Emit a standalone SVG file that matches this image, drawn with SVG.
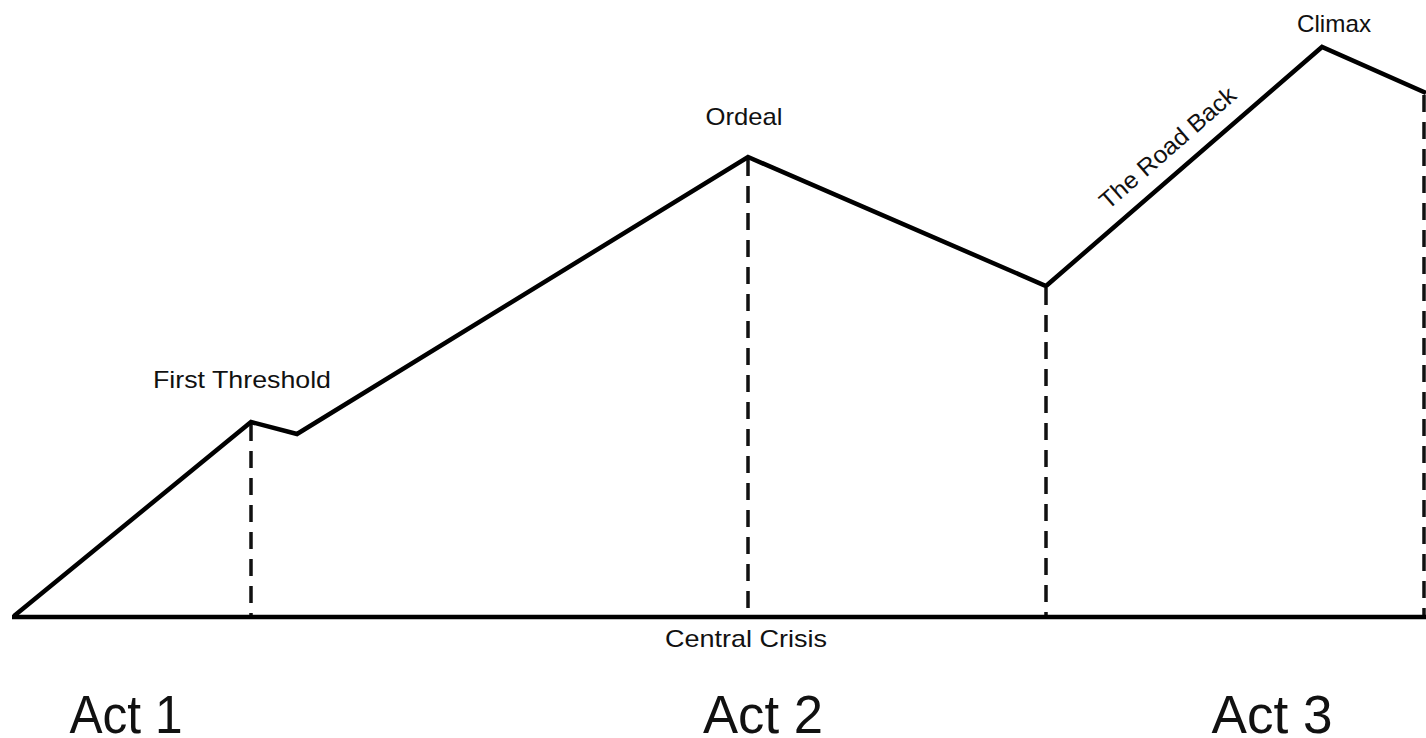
<svg xmlns="http://www.w3.org/2000/svg" width="1426" height="738" viewBox="0 0 1426 738">
<style>
.t{font-family:"Liberation Sans",Arial,sans-serif;fill:#111}
.s{font-size:24px}
.a{font-size:53px}
.ln{fill:none;stroke:#000;stroke-width:4.5;stroke-linejoin:miter}
.d{stroke:#111;stroke-width:3.5;stroke-dasharray:17 10;fill:none}
</style>
<rect width="1426" height="738" fill="#fff"/>
<g id="connectors">
<line class="d" x1="251" y1="424" x2="251" y2="616"/>
<line class="d" x1="748" y1="159" x2="748" y2="616"/>
<line class="d" x1="1046" y1="288" x2="1046" y2="616"/>
<line class="d" x1="1424" y1="95" x2="1424" y2="616"/>
<line class="ln" x1="12" y1="617" x2="1426" y2="617"/>
<polyline class="ln" points="14,616 251,422 297,434 748,157 1046,286 1322,47 1426,93"/>
</g>
<g id="first-threshold"><text class="t s" x="242" y="388" text-anchor="middle" textLength="178" lengthAdjust="spacingAndGlyphs">First Threshold</text></g>
<g id="ordeal"><text class="t s" x="744" y="125" text-anchor="middle" textLength="77" lengthAdjust="spacingAndGlyphs">Ordeal</text></g>
<g id="climax"><text class="t s" x="1334" y="32" text-anchor="middle" textLength="74" lengthAdjust="spacingAndGlyphs">Climax</text></g>
<g id="road-back"><text class="t s" text-anchor="middle" transform="translate(1173,154) rotate(-41)" textLength="172" lengthAdjust="spacingAndGlyphs">The Road Back</text></g>
<g id="central-crisis"><text class="t s" x="746" y="647" text-anchor="middle" textLength="162" lengthAdjust="spacingAndGlyphs">Central Crisis</text></g>
<g id="act1"><text class="t a" x="126" y="733" text-anchor="middle" textLength="113" lengthAdjust="spacingAndGlyphs">Act 1</text></g>
<g id="act2"><text class="t a" x="763" y="733" text-anchor="middle" textLength="120" lengthAdjust="spacingAndGlyphs">Act 2</text></g>
<g id="act3"><text class="t a" x="1272" y="733" text-anchor="middle" textLength="121" lengthAdjust="spacingAndGlyphs">Act 3</text></g>
</svg>
